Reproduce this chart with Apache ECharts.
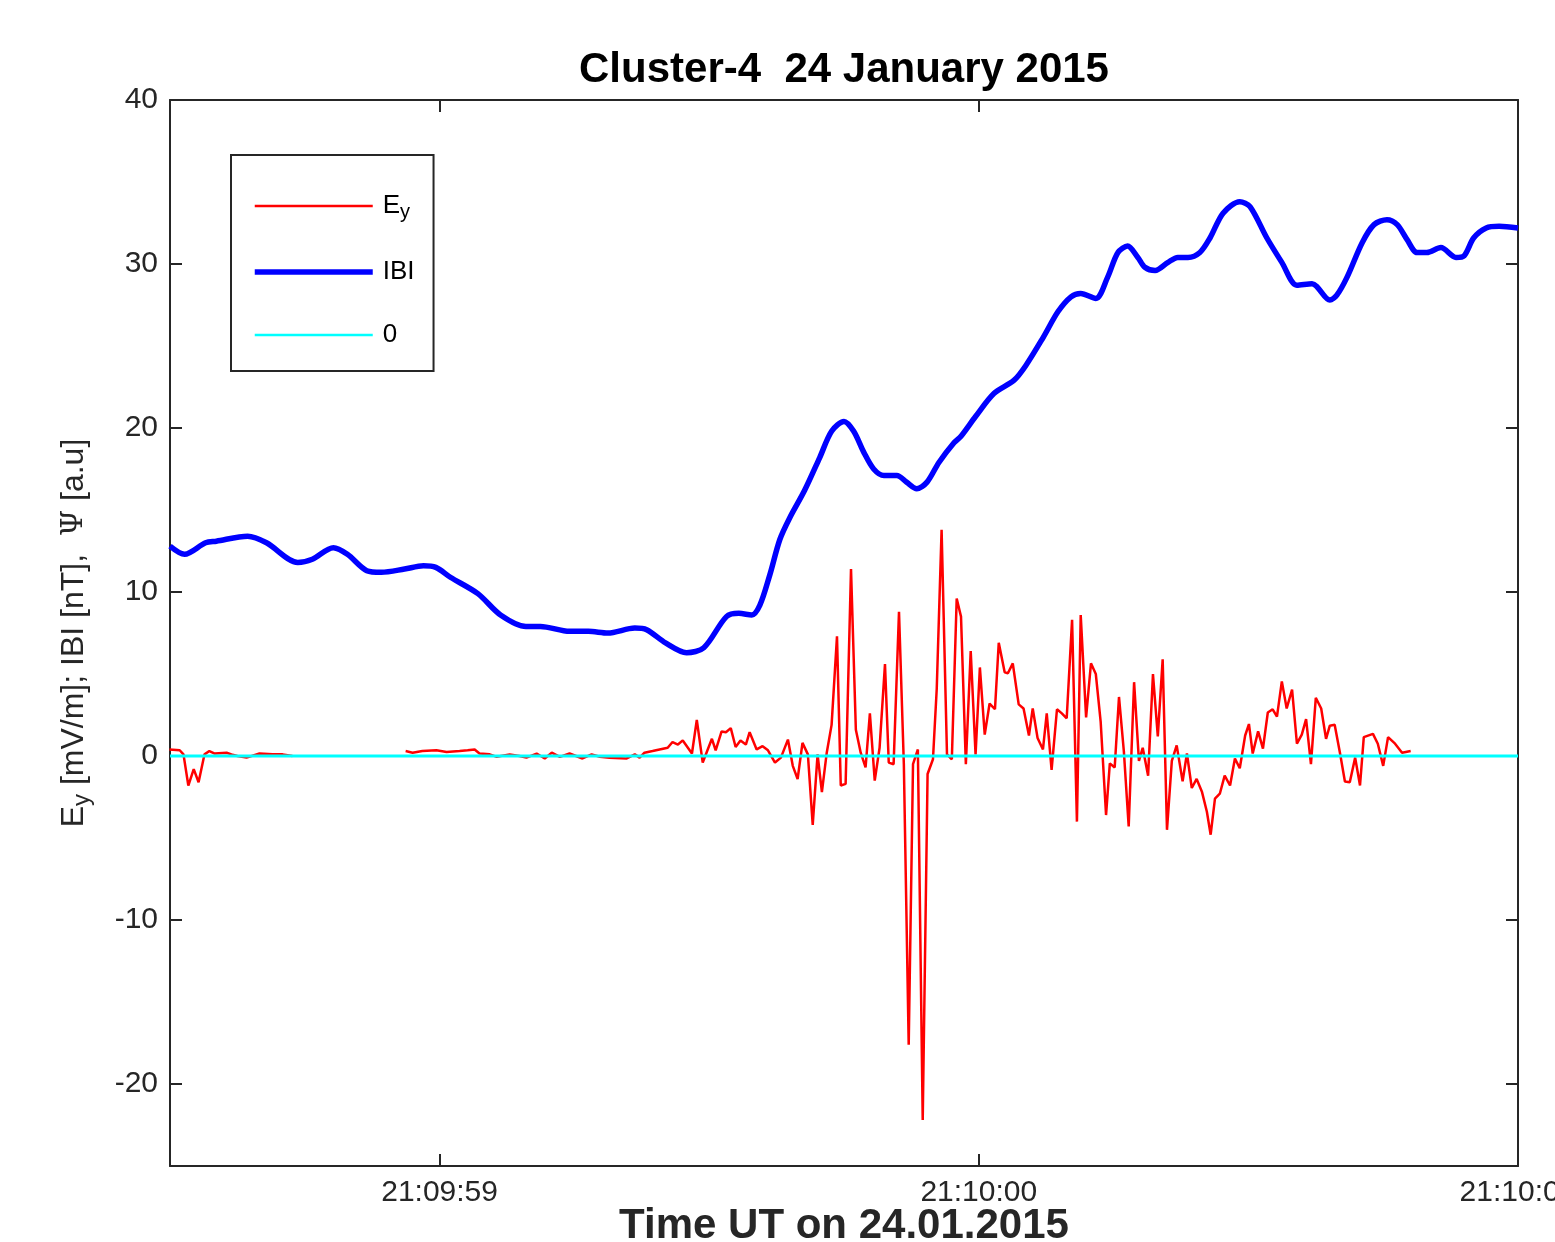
<!DOCTYPE html>
<html>
<head>
<meta charset="utf-8">
<script src="https://cdn.jsdelivr.net/npm/echarts@6/dist/echarts.min.js"></script>
<style>
  html, body { margin: 0; padding: 0; background: #fff; }
  #chart { width: 1555px; height: 1242px; }
</style>
</head>
<body>
<div id="chart"></div>
<script>
// time in ms after 21:09:59.000 UT
const ibiTime = [-500, -473, -434, -414, -356, -321, -263, -236, -197, -171, -135, -108, -65, -30, -7, 20, 71, 113, 160, 187,
  241, 276, 312, 362, 384, 419, 458, 490, 532, 555, 579, 594, 612, 631, 649, 677, 705, 727, 750, 768,
  787, 805, 824, 848, 866, 885, 904, 926, 954, 967, 994, 1028, 1065, 1087, 1119, 1147, 1171, 1189, 1217, 1239,
  1258, 1276, 1295, 1308, 1327, 1351, 1369, 1388, 1410, 1429, 1453, 1484, 1503, 1534, 1562, 1590, 1618, 1651, 1664, 1683,
  1711, 1733, 1757, 1776, 1794, 1813, 1831, 1857, 1885, 1900, 1918, 1941, 1965, 2000];
const ibiValue = [12.8, 12.3, 13.0, 13.1, 13.4, 13.0, 11.8, 12.0, 12.7, 12.3, 11.3, 11.2, 11.4, 11.6, 11.5, 10.9, 9.9, 8.6, 7.9, 7.9,
  7.6, 7.6, 7.5, 7.8, 7.7, 6.9, 6.3, 6.6, 8.5, 8.7, 8.6, 9.2, 11.0, 13.2, 14.5, 16.2, 18.2, 19.8, 20.4, 19.8,
  18.5, 17.5, 17.1, 17.1, 16.7, 16.3, 16.7, 17.9, 19.1, 19.5, 20.7, 22.1, 22.9, 23.8, 25.5, 27.1, 28.0, 28.2, 27.9, 29.2,
  30.7, 31.1, 30.4, 29.8, 29.6, 30.1, 30.4, 30.4, 30.7, 31.6, 33.1, 33.8, 33.5, 31.6, 30.1, 28.7, 28.8, 27.8, 28.1, 29.2,
  31.3, 32.4, 32.7, 32.4, 31.5, 30.7, 30.7, 31.0, 30.4, 30.5, 31.6, 32.2, 32.3, 32.2];

const eyTime = [-501, -482, -475, -466, -456, -447, -436, -427, -417, -395, -386, -375, -358, -334, -310, -291, -273, -167,
  -63, -50, -32, -6, 13, 37, 52, 65, 74, 93, 106, 130, 148, 161, 180, 195, 208, 223, 241, 265, 282, 297,
  315, 347, 362, 371, 380, 395, 408, 423, 432, 442, 451, 468, 477, 488, 505, 512, 523, 531, 540, 549,
  558, 568, 575, 588, 599, 609, 622, 633, 646, 655, 664, 673, 683, 692, 701, 709, 718, 727, 737, 744,
  753, 763, 772, 781, 790, 798, 807, 816, 826, 833, 842, 852, 861, 870, 878, 887, 896, 905, 915, 922,
  931, 941, 950, 959, 967, 976, 985, 994, 1002, 1011, 1020, 1030, 1037, 1048, 1054, 1063, 1074, 1083, 1093, 1100,
  1109, 1119, 1126, 1135, 1145, 1154, 1163, 1173, 1182, 1189, 1199, 1208, 1217, 1226, 1236, 1243, 1252, 1260, 1269, 1278,
  1288, 1297, 1304, 1314, 1323, 1332, 1341, 1349, 1358, 1367, 1378, 1386, 1395, 1404, 1414, 1423, 1430, 1438, 1447, 1456,
  1466, 1475, 1484, 1494, 1501, 1508, 1518, 1527, 1536, 1545, 1553, 1562, 1571, 1581, 1590, 1599, 1607, 1616, 1625, 1635,
  1644, 1651, 1660, 1670, 1679, 1688, 1698, 1707, 1714, 1731, 1740, 1750, 1759, 1772, 1785, 1801];
const eyValue = [0.4, 0.35, 0.1, -1.8, -0.8, -1.6, 0.1, 0.3, 0.15, 0.2, 0.1, 0, -0.1, 0.15, 0.1, 0.1, 0, null,
  0.3, 0.2, 0.3, 0.35, 0.25, 0.3, 0.35, 0.4, 0.15, 0.1, -0.05, 0.1, 0, -0.1, 0.15, -0.15, 0.2, -0.05, 0.15, -0.15, 0.1, -0.05,
  -0.1, -0.15, 0.1, -0.1, 0.2, 0.3, 0.4, 0.5, 0.85, 0.7, 0.95, 0.15, 2.2, -0.4, 1.05, 0.35, 1.5, 1.45, 1.7, 0.55,
  0.95, 0.7, 1.45, 0.4, 0.6, 0.35, -0.4, -0.1, 1.0, -0.6, -1.4, 0.8, 0.1, -4.2, 0.1, -2.2, 0.2, 1.9, 7.3, -1.8,
  -1.7, 11.4, 1.6, 0.2, -0.7, 2.6, -1.5, 0.5, 5.6, -0.4, -0.5, 8.8, -0.5, -17.6, -0.5, 0.4, -22.2, -1.1, -0.2, 4.1,
  13.8, 0.1, -0.2, 9.6, 8.5, -0.5, 6.4, 0.1, 5.4, 1.3, 3.2, 2.85, 6.9, 5.1, 5.05, 5.65, 3.15, 2.9, 1.25, 2.9,
  1.1, 0.4, 2.6, -0.85, 2.85, 2.6, 2.3, 8.3, -4.0, 8.6, 2.35, 5.65, 5.0, 2.1, -3.6, -0.45, -0.7, 3.6, 0.3, -4.3,
  4.5, -0.3, 0.5, -1.2, 5.0, 1.2, 5.9, -4.5, -0.3, 0.65, -1.55, 0.15, -1.95, -1.4, -2.2, -3.4, -4.8, -2.6, -2.3, -1.2,
  -1.8, -0.15, -0.75, 1.25, 1.95, 0.15, 1.5, 0.45, 2.65, 2.85, 2.4, 4.55, 2.9, 4.05, 0.75, 1.3, 2.25, -0.5, 3.55, 2.9,
  1.05, 1.85, 1.9, 0.15, -1.55, -1.6, -0.1, -1.8, 1.15, 1.35, 0.75, -0.6, 1.15, 0.75, 0.2, 0.3];

const zeroTime = [-500, 2000];
const zeroValue = [0, 0];

const xTickValues = [0, 1000, 2000];
const xTickLabels = ['21:09:59', '21:10:00', '21:10:01'];
const yTickValues = [-20, -10, 0, 10, 20, 30, 40];

const pairs = (t, v) => t.map((x, i) => [x, v[i] === null ? '-' : v[i]]);

const FONT = 'Liberation Sans, Arial, Helvetica, sans-serif';
const INK = '#262626';

const chart = echarts.init(document.getElementById('chart'));

const xBase = {
  type: 'value',
  min: -500,
  max: 2000,
  splitLine: { show: false },
  axisLine: { onZero: false, lineStyle: { color: INK, width: 2 } },
  axisTick: { inside: true, length: 12, customValues: xTickValues, lineStyle: { color: INK, width: 2 } },
};
const yBase = {
  type: 'value',
  min: -25,
  max: 40,
  splitLine: { show: false },
  axisLine: { onZero: false, lineStyle: { color: INK, width: 2 } },
  axisTick: { inside: true, length: 12, customValues: yTickValues, lineStyle: { color: INK, width: 2 } },
};

const option = {
  backgroundColor: '#fff',
  animation: false,
  textStyle: { fontFamily: FONT },
  title: {
    text: 'Cluster-4  24 January 2015',
    left: 839,
    top: 44,
    textAlign: 'center',
    textStyle: { fontFamily: FONT, fontSize: 42, fontWeight: 'bold', color: '#000' },
  },
  grid: { left: 170, right: 37, top: 100, bottom: 76, outerBoundsMode: 'none' },
  legend: {
    orient: 'vertical',
    left: 231,
    top: 155,
    padding: [38, 19, 23, 21],
    itemWidth: 118,
    itemHeight: 20,
    itemGap: 37,
    backgroundColor: '#fff',
    borderColor: INK,
    borderWidth: 2,
    borderRadius: 0,
    itemStyle: { opacity: 0 },
    data: [
      { name: 'Ey', lineStyle: { width: 2.5, color: '#ff0000' } },
      { name: 'IBI', lineStyle: { width: 5.5, color: '#0000ff' } },
      { name: '0', lineStyle: { width: 2.5, color: '#00ffff' } },
    ],
    formatter: (name) => (name === 'Ey' ? '{a|E}{s|y}' : '{a|' + name + '}'),
    textStyle: {
      rich: {
        a: { fontFamily: FONT, fontSize: 26, color: '#000', padding: [0, 0, 0, 5] },
        s: { fontFamily: FONT, fontSize: 20, color: '#000', padding: [12, 0, 0, 0] },
      },
    },
  },
  xAxis: [
    Object.assign({}, xBase, {
      position: 'bottom',
      name: 'Time UT on 24.01.2015',
      nameLocation: 'middle',
      nameGap: 39,
      nameMoveOverlap: false,
      nameTextStyle: { fontFamily: FONT, fontSize: 42, fontWeight: 'bold', color: INK, verticalAlign: 'top' },
      axisLabel: {
        customValues: xTickValues,
        margin: 12,
        fontFamily: FONT,
        fontSize: 30,
        color: INK,
        formatter: (v) => xTickLabels[xTickValues.indexOf(v)] || '',
      },
    }),
    Object.assign({}, xBase, { position: 'top', axisLabel: { show: false } }),
  ],
  yAxis: [
    Object.assign({}, yBase, {
      position: 'left',
      name: '{a|E}{s|y}{a| [mV/m]; IBI [nT],  }{p|Ψ}{a| [a.u]}',
      nameLocation: 'middle',
      nameGap: 76,
      nameRotate: 90,
      nameTextStyle: {
        rich: {
          a: { fontFamily: FONT, fontSize: 32, color: INK },
          s: { fontFamily: FONT, fontSize: 24, color: INK, padding: [16, 0, 0, 0] },
          p: { fontFamily: 'DejaVu Serif, serif', fontSize: 30, color: INK },
        },
      },
      axisLabel: {
        customValues: yTickValues,
        margin: 12,
        fontFamily: FONT,
        fontSize: 30,
        color: INK,
      },
    }),
    Object.assign({}, yBase, { position: 'right', axisLabel: { show: false } }),
  ],
  series: [
    {
      name: 'Ey',
      type: 'line',
      data: pairs(eyTime, eyValue),
      symbol: 'none',
      connectNulls: false,
      lineStyle: { color: '#ff0000', width: 2.5 },
      itemStyle: { color: '#ff0000' },
      z: 2,
    },
    {
      name: 'IBI',
      type: 'line',
      data: pairs(ibiTime, ibiValue),
      symbol: 'none',
      smooth: 0.3,
      lineStyle: { color: '#0000ff', width: 5.5 },
      itemStyle: { color: '#0000ff' },
      z: 3,
    },
    {
      name: '0',
      type: 'line',
      data: pairs(zeroTime, zeroValue),
      symbol: 'none',
      lineStyle: { color: '#00ffff', width: 3 },
      itemStyle: { color: '#00ffff' },
      z: 4,
    },
  ],
};

chart.setOption(option);
</script>
</body>
</html>
